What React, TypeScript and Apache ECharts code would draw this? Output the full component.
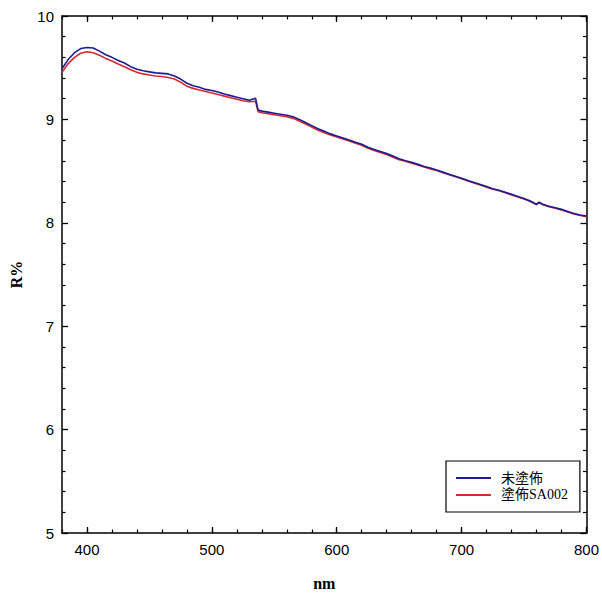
import React, { useEffect, useRef } from "react";
import * as echarts from "echarts";

const wavelengths = [
  380, 385, 390, 395, 400, 405, 410, 415, 420, 425, 430, 435, 440, 445, 450, 455, 460, 465, 470, 475,
  480, 485, 490, 495, 500, 505, 510, 515, 520, 525, 530, 535, 537, 540, 545, 550, 555, 560, 565, 570,
  575, 580, 585, 590, 595, 600, 605, 610, 615, 620, 625, 630, 635, 640, 645, 650, 655, 660, 665, 670,
  675, 680, 685, 690, 695, 700, 705, 710, 715, 720, 725, 730, 735, 740, 745, 750, 755, 760, 762, 765,
  770, 775, 780, 785, 790, 795, 800,
];

const uncoated = [
  9.49, 9.58, 9.645, 9.685, 9.695, 9.69, 9.66, 9.625, 9.6, 9.57, 9.545, 9.51, 9.485, 9.47, 9.46, 9.45, 9.445, 9.44, 9.42, 9.39,
  9.35, 9.325, 9.31, 9.29, 9.28, 9.265, 9.245, 9.23, 9.215, 9.2, 9.185, 9.205, 9.09, 9.08, 9.07, 9.06, 9.05, 9.04, 9.025, 9.0,
  8.97, 8.94, 8.91, 8.885, 8.86, 8.84, 8.82, 8.8, 8.78, 8.76, 8.73, 8.71, 8.69, 8.67, 8.645, 8.62, 8.6, 8.585, 8.565, 8.545,
  8.53, 8.51, 8.49, 8.47, 8.45, 8.43, 8.41, 8.39, 8.37, 8.35, 8.33, 8.315, 8.295, 8.275, 8.255, 8.235, 8.21, 8.18, 8.2, 8.18,
  8.16, 8.145, 8.13, 8.11, 8.09, 8.075, 8.065,
];

const coatedSA002 = [
  9.455, 9.54, 9.6, 9.64, 9.655, 9.645, 9.62, 9.59, 9.565, 9.535, 9.51, 9.48, 9.455, 9.44, 9.43, 9.42, 9.415, 9.405, 9.39, 9.36,
  9.32, 9.3, 9.285, 9.27, 9.255, 9.24, 9.225, 9.21, 9.195, 9.18, 9.17, 9.175, 9.075, 9.065, 9.055, 9.045, 9.035, 9.025, 9.01, 8.985,
  8.955, 8.925, 8.895, 8.87, 8.85, 8.83, 8.81, 8.79, 8.77, 8.75, 8.72, 8.7, 8.68, 8.66, 8.635, 8.61, 8.595, 8.575, 8.56, 8.54,
  8.52, 8.505, 8.485, 8.465, 8.445, 8.425, 8.405, 8.385, 8.365, 8.345, 8.325, 8.31, 8.29, 8.27, 8.25, 8.23, 8.205, 8.175, 8.195, 8.175,
  8.155, 8.14, 8.125, 8.105, 8.085, 8.07, 8.06,
];

const seriesNames = ["未塗佈", "塗佈SA002"];
const xMajorTicks = [400, 500, 600, 700, 800];

export default function App() {
  const ref = useRef<HTMLDivElement>(null);

  useEffect(() => {
    const chart = echarts.init(ref.current!, null, { renderer: "svg" });
    const black = "#000";
    const serif = "'Liberation Serif', 'Noto Sans CJK TC', serif";
    const sans = "'Liberation Sans', Arial, sans-serif";

    const majorX = (position: "top" | "bottom", labels: boolean, name?: string) => ({
      type: "value",
      position,
      min: 380,
      max: 800,
      name,
      nameLocation: "middle",
      nameGap: 42,
      nameTextStyle: { fontFamily: serif, fontSize: 16, fontWeight: "bold", color: black },
      axisLine: { show: true, onZero: false, lineStyle: { color: black, width: 1.5 } },
      axisTick: { show: true, inside: true, length: 6, customValues: xMajorTicks, lineStyle: { color: black, width: 1.3 } },
      axisLabel: labels
        ? { show: true, customValues: xMajorTicks, fontFamily: sans, fontSize: 15, color: black, margin: 9 }
        : { show: false },
      splitLine: { show: false },
    });
    const minorX = (position: "top" | "bottom") => ({
      type: "value",
      position,
      min: 380,
      max: 800,
      interval: 20,
      axisLine: { show: false },
      axisTick: { show: true, inside: true, length: 3.5, lineStyle: { color: black, width: 1.2 } },
      axisLabel: { show: false },
      splitLine: { show: false },
    });
    const yAx = (position: "left" | "right", labels: boolean, name?: string) => ({
      type: "value",
      position,
      min: 5,
      max: 10,
      interval: 1,
      name,
      nameLocation: "middle",
      nameGap: 38,
      nameTextStyle: { fontFamily: serif, fontSize: 16, fontWeight: "bold", color: black },
      axisLine: { show: true, onZero: false, lineStyle: { color: black, width: 1.5 } },
      axisTick: { show: true, inside: true, length: 6, lineStyle: { color: black, width: 1.3 } },
      minorTick: { show: true, splitNumber: 5, length: 3.5, lineStyle: { color: black, width: 1.2 } },
      axisLabel: labels ? { show: true, fontFamily: sans, fontSize: 15, color: black, margin: 8 } : { show: false },
      splitLine: { show: false },
      minorSplitLine: { show: false },
    });

    chart.setOption({
      animation: false,
      backgroundColor: "#fff",
      grid: { left: 62, right: 12, top: 16, bottom: 57, containLabel: false },
      legend: {
        left: 446,
        top: 461,
        orient: "vertical",
        data: seriesNames.map((n) => ({ name: n, icon: "rect" })),
        borderColor: black,
        borderWidth: 1.2,
        backgroundColor: "#fff",
        padding: [10, 12, 10, 10],
        itemWidth: 35,
        itemHeight: 2,
        itemGap: 3,
        textStyle: { fontFamily: serif, fontSize: 14, color: black, padding: [0, 0, 0, 5] },
      },
      xAxis: [majorX("bottom", true, "nm"), minorX("bottom"), majorX("top", false), minorX("top")],
      yAxis: [yAx("left", true, "R%"), yAx("right", false)],
      series: [
        {
          name: seriesNames[0],
          type: "line",
          xAxisIndex: 0,
          yAxisIndex: 0,
          symbol: "none",
          data: wavelengths.map((w, i) => [w, uncoated[i]]),
          lineStyle: { color: "#1c1c96", width: 1.6 },
          itemStyle: { color: "#1c1c96" },
          z: 3,
        },
        {
          name: seriesNames[1],
          type: "line",
          xAxisIndex: 0,
          yAxisIndex: 0,
          symbol: "none",
          data: wavelengths.map((w, i) => [w, coatedSA002[i]]),
          lineStyle: { color: "#d42a2a", width: 1.6 },
          itemStyle: { color: "#d42a2a" },
          z: 2,
        },
      ],
    });
    return () => chart.dispose();
  }, []);

  return (
    <div
      ref={ref}
      style={{ position: "fixed", left: 0, top: 0, width: 602, height: 596, overflow: "hidden" }}
    />
  );
}
